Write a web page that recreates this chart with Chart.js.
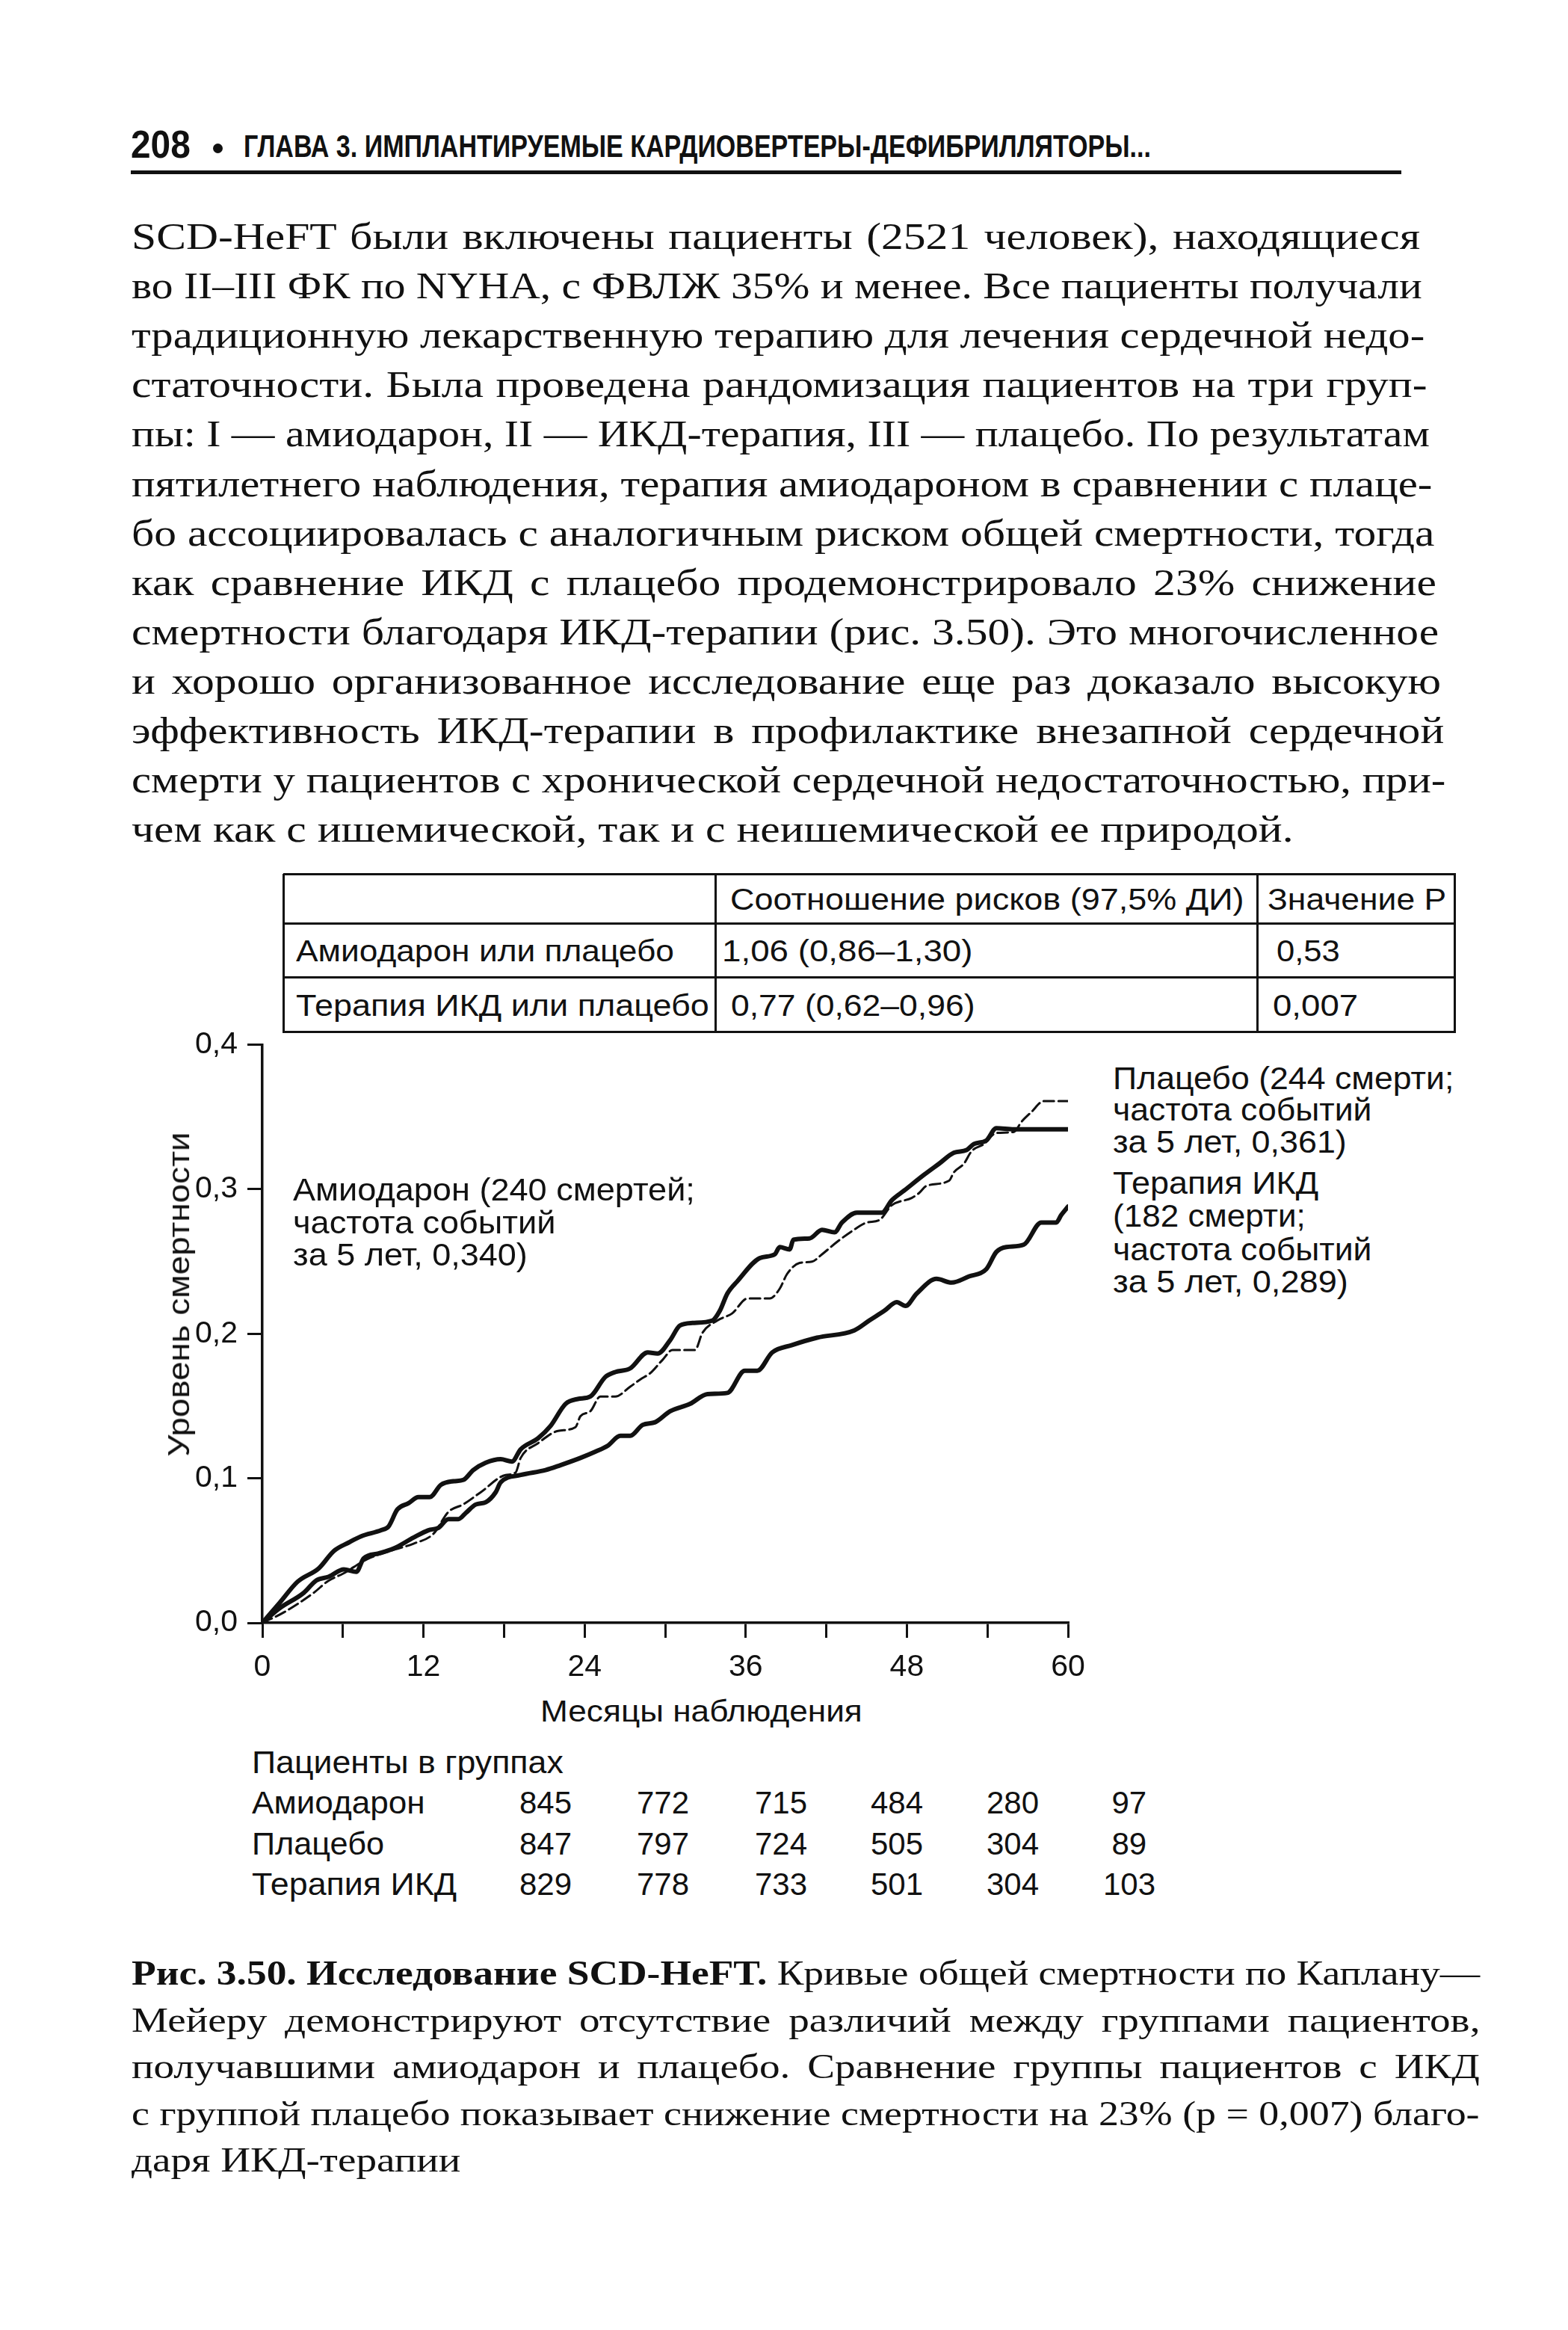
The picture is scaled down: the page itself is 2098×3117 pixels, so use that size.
<!DOCTYPE html>
<html><head><meta charset="utf-8">
<script src="https://cdn.jsdelivr.net/npm/chart.js@4.4.1/dist/chart.umd.min.js"></script>
<style>
html,body{margin:0;padding:0;background:#fff;}
#page{position:relative;width:2098px;height:3117px;overflow:hidden;background:#fff;color:#111;}
.t{position:absolute;white-space:nowrap;transform-origin:0 50%;display:inline-block;}
.serif{font-family:"Liberation Serif","Times New Roman",serif;}
.sans{font-family:"Liberation Sans",Arial,sans-serif;}
.ln{position:absolute;background:#111;}
canvas{position:absolute;}
</style></head><body><div id="page"></div>
<script>
// ---------------- DATA ----------------
const amioMonths = [0,1.3,2.63,4.21,5.32,6.44,7.36,8.85,9.40,10.06,10.89,11.63,12.47,13.30,14.23,14.97,15.71,16.64,17.75,18.59,19.24,20.53,21.46,22.58,23.5,24.43,25.54,26.28,27.4,28.7,29.44,30.37,31.1,32.04,33.52,34.07,34.63,35.37,37.05,38.16,38.53,39.27,39.55,40.75,41.68,42.61,43.17,44.28,46.13,46.87,47.8,49.29,50.4,51.51,52.44,52.99,53.92,54.66,55.97,60];
const amioMort = [0,0.014,0.0285,0.0378,0.0497,0.0556,0.0599,0.0641,0.0667,0.0785,0.0828,0.087,0.087,0.0955,0.098,0.0989,0.1057,0.1108,0.1133,0.1116,0.1201,0.1277,0.1362,0.1515,0.1549,0.1566,0.1701,0.1735,0.1761,0.1871,0.1863,0.1956,0.2057,0.2075,0.2092,0.2159,0.2278,0.2363,0.2524,0.255,0.26,0.2584,0.2651,0.266,0.2719,0.2702,0.277,0.2838,0.2838,0.2923,0.2991,0.3101,0.3177,0.3253,0.3271,0.3313,0.3338,0.3423,0.3415,0.3415];

const placeboMonths = [0,1.61,3.84,4.9,6.0,7.8,9.6,11.26,12.74,13.86,14.97,16.27,18.12,18.86,19.24,20.53,22.02,23.32,23.69,24.43,25.17,26.28,27.4,28.14,28.88,29.81,30.55,32.22,32.78,33.89,35.0,36.12,37.79,38.53,39.08,40.01,40.94,41.68,42.79,43.91,45.02,45.95,46.87,48.36,48.91,49.47,51.14,51.51,52.25,52.81,53.74,54.66,55.97,56.53,57.27,58.2,60];
const placeboMort = [0,0.0073,0.0209,0.029,0.034,0.044,0.050,0.0548,0.0616,0.0768,0.082,0.0904,0.1023,0.104,0.1141,0.1243,0.1328,0.1354,0.143,0.1464,0.1566,0.1566,0.1634,0.1684,0.1727,0.182,0.1888,0.1888,0.2007,0.2092,0.2142,0.2244,0.2244,0.2312,0.2414,0.249,0.2499,0.255,0.2635,0.271,0.277,0.2787,0.2889,0.294,0.2974,0.3024,0.3059,0.3118,0.3177,0.3262,0.3313,0.3389,0.3397,0.3466,0.3534,0.361,0.361];

const icdMonths = [0,1.24,3.10,4.02,4.95,6.07,7.0,7.55,8.66,9.78,11.26,12.37,13.12,13.86,14.6,15.15,15.9,16.64,17.38,17.75,19.24,21.09,22.2,23.69,24.8,25.73,26.66,27.4,28.33,29.25,30.37,31.85,33.15,34.63,35.93,36.86,37.97,39.45,41.31,44.09,45.2,46.32,47.25,47.9,48.73,50.21,51.33,52.63,53.92,54.66,55.41,56.71,58.01,59.12,59.49,60];
const icdMort = [0,0.0098,0.0209,0.0294,0.0319,0.037,0.0353,0.0446,0.048,0.0514,0.059,0.0641,0.0658,0.0718,0.0718,0.076,0.0819,0.0835,0.0904,0.0972,0.1023,0.1057,0.1091,0.1141,0.1184,0.1226,0.1294,0.1294,0.137,0.1388,0.1464,0.1515,0.1583,0.1591,0.1744,0.1744,0.1871,0.1922,0.1973,0.2024,0.2092,0.2159,0.2219,0.2193,0.2278,0.238,0.2354,0.2397,0.2448,0.2566,0.26,0.2617,0.277,0.277,0.2821,0.288];

const xMin = 0, xMax = 60, xStep = 6, xLabelEvery = 12;
const yMin = 0, yMax = 0.4, yStep = 0.1;

const riskGroups = ["Амиодарон", "Плацебо", "Терапия ИКД"];
const riskAmio = [845, 772, 715, 484, 280, 97];
const riskPlacebo = [847, 797, 724, 505, 304, 89];
const riskIcd = [829, 778, 733, 501, 304, 103];

const hrHeader = ["", "Соотношение рисков (97,5% ДИ)", "Значение Р"];
const hrAmio = ["Амиодарон или плацебо", "1,06 (0,86–1,30)", "0,53"];
const hrIcd = ["Терапия ИКД или плацебо", "0,77 (0,62–0,96)", "0,007"];

// ---------------- PAGE HELPERS ----------------
const page = document.getElementById('page');
function line(x, y, w, h){const d=document.createElement('div');d.className='ln';d.style.left=x+'px';d.style.top=y+'px';d.style.width=w+'px';d.style.height=h+'px';page.appendChild(d);return d;}
function txt(html, cls, x, yc, size, opts){
  opts = opts||{};
  const d=document.createElement('div');
  d.className='t '+cls; d.innerHTML=html;
  d.style.fontSize=size+'px'; d.style.lineHeight=Math.round(size*1.2)+'px';
  d.style.top=(yc - size*0.6)+'px';
  if(opts.bold) d.style.fontWeight='bold';
  page.appendChild(d);
  const nat=d.offsetWidth;
  let s=1;
  if(opts.w) s=opts.w/nat;
  if(opts.cx!==undefined){ d.style.left=(opts.cx - nat*s/2)+'px'; }
  else d.style.left=x+'px';
  if(s!==1) d.style.transform='scaleX('+s+')';
  return d;
}
function justLine(html, cls, x, yc, size, target, S){
  const d=txt(html, cls, x, yc, size);
  const nat=d.offsetWidth;
  const n=(d.textContent.match(/ /g)||[]).length;
  const extra=target/S - nat;
  if(extra>=0 && n>0){ d.style.wordSpacing=(extra/n)+'px'; d.style.transform='scaleX('+S+')'; }
  else d.style.transform='scaleX('+(target/nat)+')';
  return d;
}

// ---------------- HEADER ----------------
txt('208','sans',175,193,52,{bold:true,w:80});
const dot=document.createElement('div');dot.style.cssText='position:absolute;left:285px;top:192px;width:13px;height:13px;border-radius:50%;background:#111;';page.appendChild(dot);
txt('ГЛАВА 3. ИМПЛАНТИРУЕМЫЕ КАРДИОВЕРТЕРЫ-ДЕФИБРИЛЛЯТОРЫ...','sans',326,196,42,{bold:true,w:1214});
line(175,228,1700,5);

// ---------------- BODY TEXT ----------------
const bodyLines = [
 "SCD-HeFT были включены пациенты (2521 человек), находящиеся",
 "во II–III ФК по NYHA, с ФВЛЖ 35% и менее. Все пациенты получали",
 "традиционную лекарственную терапию для лечения сердечной недо-",
 "статочности. Была проведена рандомизация пациентов на три груп-",
 "пы: I — амиодарон, II — ИКД-терапия, III — плацебо. По результатам",
 "пятилетнего наблюдения, терапия амиодароном в сравнении с плаце-",
 "бо ассоциировалась с аналогичным риском общей смертности, тогда",
 "как сравнение ИКД с плацебо продемонстрировало 23% снижение",
 "смертности благодаря ИКД-терапии (рис. 3.50). Это многочисленное",
 "и хорошо организованное исследование еще раз доказало высокую",
 "эффективность ИКД-терапии в профилактике внезапной сердечной",
 "смерти у пациентов с хронической сердечной недостаточностью, при-",
 "чем как с ишемической, так и с неишемической ее природой."
];
const bodySize=50, bodyX=176;
const lastB = txt(bodyLines[12],'serif',bodyX,316+66.1*12,bodySize);
const bodyS = 1554/lastB.offsetWidth;
lastB.style.transform='scaleX('+bodyS+')';
for(let k=0;k<12;k++){
  const right = 1900 + (1935-1900)*k/11;
  justLine(bodyLines[k],'serif',bodyX,316+66.1*k,bodySize,right-bodyX,bodyS);
}

// ---------------- HAZARD TABLE ----------------
[1169,1235,1307,1380].forEach(y=>line(379,y-1.5,1569,3.5));
[379,957,1682,1946].forEach(x=>line(x-1.5,1169,3.5,212.5));
const tSize=40;
txt(hrHeader[1],'sans',977,1203,tSize,{w:687});
txt(hrHeader[2],'sans',1696,1203,tSize,{w:239});
txt(hrAmio[0],'sans',396,1272,tSize,{w:506});
txt(hrAmio[1],'sans',966,1272,tSize,{w:336});
txt(hrAmio[2],'sans',1708,1272,tSize,{w:85});
txt(hrIcd[0],'sans',396,1345,tSize,{w:553});
txt(hrIcd[1],'sans',978,1345,tSize,{w:327});
txt(hrIcd[2],'sans',1703,1345,tSize,{w:114});

// ---------------- CHART ----------------
const cv=document.createElement('canvas');
cv.width=1330; cv.height=900; cv.style.left='150px'; cv.style.top='1360px';
cv.style.width='1330px'; cv.style.height='900px';
page.appendChild(cv);
const toXY=(xs,ys)=>xs.map((x,i)=>({x:x,y:ys[i]}));
const tickFont={family:'"Liberation Sans", Arial, sans-serif', size:41};
new Chart(cv.getContext('2d'),{
  type:'line',
  data:{datasets:[
    {label:'Плацебо',data:toXY(placeboMonths,placeboMort),borderColor:'#111',borderWidth:3,borderDash:[14,6],pointRadius:0,cubicInterpolationMode:'monotone',fill:false,borderCapStyle:'round'},
    {label:'Амиодарон',data:toXY(amioMonths,amioMort),borderColor:'#111',borderWidth:6,pointRadius:0,cubicInterpolationMode:'monotone',fill:false,borderCapStyle:'round',borderJoinStyle:'round'},
    {label:'Терапия ИКД',data:toXY(icdMonths,icdMort),borderColor:'#111',borderWidth:6,pointRadius:0,cubicInterpolationMode:'monotone',fill:false,borderCapStyle:'round',borderJoinStyle:'round'}
  ]},
  options:{
    responsive:false, animation:false, devicePixelRatio:1,
    layout:{padding:{left:0,right:51,top:25,bottom:0}},
    plugins:{legend:{display:false},tooltip:{enabled:false}},
    scales:{
      x:{type:'linear',min:xMin,max:xMax,
         afterFit:(s)=>{s.height=89;},
         ticks:{stepSize:xStep,autoSkip:false,maxRotation:0,minRotation:0,padding:15,color:'#111',font:tickFont,
                callback:(v)=> (v % xLabelEvery === 0 ? String(v) : '')},
         grid:{drawOnChartArea:false,drawTicks:true,tickLength:20,color:'#111',lineWidth:3},
         border:{display:true,color:'#111',width:3.5}},
      y:{min:yMin,max:yMax,
         afterFit:(s)=>{s.width=201;},
         ticks:{stepSize:yStep,padding:13,color:'#111',font:tickFont,
                callback:(v)=> Number(v).toFixed(1).replace('.',',')},
         grid:{drawOnChartArea:false,drawTicks:true,tickLength:20,color:'#111',lineWidth:3},
         border:{display:true,color:'#111',width:3.5}}
    }
  }
});

// axis titles
(function(){
  const d=txt('Уровень смертности','sans',0,1732,41);
  const nat=d.offsetWidth; const s=434/nat;
  d.style.left=(239-nat/2)+'px';
  d.style.transformOrigin='50% 50%';
  d.style.transform='rotate(-90deg) scaleX('+s+')';
})();
txt('Месяцы наблюдения','sans',0,2290,41,{cx:938,w:431});

// curve annotations
const annSize=42;
txt('Амиодарон (240 смертей;','sans',392,1592,annSize,{w:538});
txt('частота событий','sans',392,1636,annSize,{w:351});
txt('за 5 лет, 0,340)','sans',392,1679,annSize,{w:314});
txt('Плацебо (244 смерти;','sans',1489,1443,annSize,{w:456});
txt('частота событий','sans',1489,1485,annSize,{w:346});
txt('за 5 лет, 0,361)','sans',1489,1528,annSize,{w:313});
txt('Терапия ИКД','sans',1489,1583,annSize,{w:275});
txt('(182 смерти;','sans',1489,1627,annSize,{w:258});
txt('частота событий','sans',1489,1672,annSize,{w:346});
txt('за 5 лет, 0,289)','sans',1489,1715,annSize,{w:315});

// at-risk table
const riskSize=42;
const riskCols=[730,887,1045,1200,1355,1511];
const riskRowsY=[2412,2467,2521];
const riskLabelW=[232,177,274];
txt('Пациенты в группах','sans',337,2358,riskSize,{w:417});
[riskAmio,riskPlacebo,riskIcd].forEach((row,r)=>{
  txt(riskGroups[r],'sans',337,riskRowsY[r],riskSize,{w:riskLabelW[r]});
  row.forEach((v,c)=>txt(String(v),'sans',0,riskRowsY[r],riskSize,{cx:riskCols[c]}));
});

// ---------------- CAPTION ----------------
const capLines=[
 "<b>Рис. 3.50. Исследование SCD-HeFT.</b> Кривые общей смертности по Каплану—",
 "Мейеру демонстрируют отсутствие различий между группами пациентов,",
 "получавшими амиодарон и плацебо. Сравнение группы пациентов с ИКД",
 "с группой плацебо показывает снижение смертности на 23% (р = 0,007) благо-",
 "даря ИКД-терапии"
];
const capSize=46, capX=176, capTarget=1804;
const lastC=txt(capLines[4],'serif',capX,2640+62.5*4,capSize);
const capS=440/lastC.offsetWidth;
lastC.style.transform='scaleX('+capS+')';
for(let k=0;k<4;k++) justLine(capLines[k],'serif',capX,2640+62.5*k,capSize,capTarget,capS);
</script></body></html>
